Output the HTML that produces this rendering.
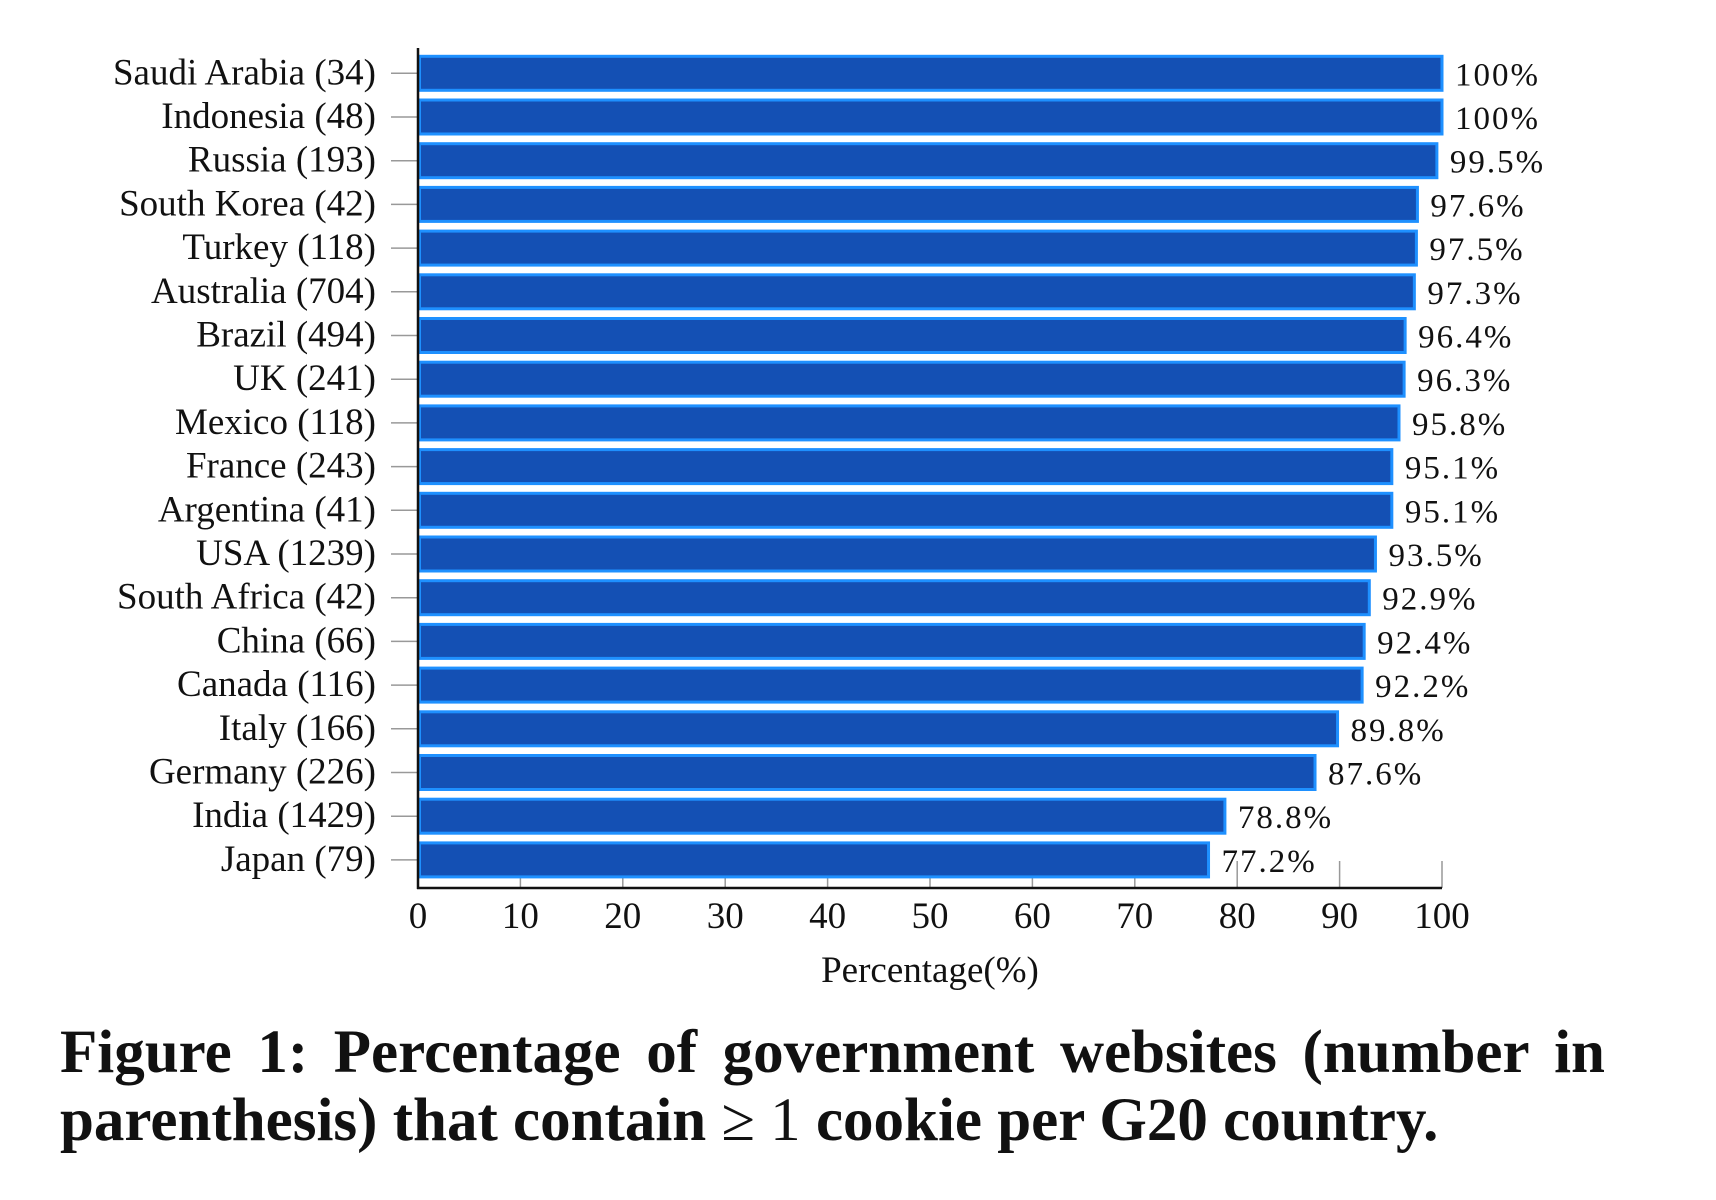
<!DOCTYPE html>
<html><head><meta charset="utf-8"><style>
html,body{margin:0;padding:0;background:#fff;width:1716px;height:1200px;overflow:hidden}
svg{display:block}
.cap{position:absolute;left:60px;width:1545px;font-family:"Liberation Serif",serif;font-weight:bold;font-size:61px;color:#111}
</style></head><body>
<svg id="chart" width="1716" height="1000" xmlns="http://www.w3.org/2000/svg"></svg>
<div class="cap" style="top:1018px;text-align:justify;text-align-last:justify;white-space:nowrap">Figure 1: Percentage of government websites (number in</div>
<div class="cap" style="top:1086px;white-space:nowrap">parenthesis) that contain <span style="font-weight:normal">≥ 1</span> cookie per G20 country.</div>
<script>
const countries = ["Saudi Arabia (34)","Indonesia (48)","Russia (193)","South Korea (42)","Turkey (118)","Australia (704)","Brazil (494)","UK (241)","Mexico (118)","France (243)","Argentina (41)","USA (1239)","South Africa (42)","China (66)","Canada (116)","Italy (166)","Germany (226)","India (1429)","Japan (79)"];
const values = [100,100,99.5,97.6,97.5,97.3,96.4,96.3,95.8,95.1,95.1,93.5,92.9,92.4,92.2,89.8,87.6,78.8,77.2];
const valueLabels = ["100%","100%","99.5%","97.6%","97.5%","97.3%","96.4%","96.3%","95.8%","95.1%","95.1%","93.5%","92.9%","92.4%","92.2%","89.8%","87.6%","78.8%","77.2%"];
const xTicks = [0,10,20,30,40,50,60,70,80,90,100];

const NS="http://www.w3.org/2000/svg";
const svg=document.getElementById('chart');
const X0=418,X1=1442,YB=888,YT=48,firstC=73.3,step=43.7,barH=34;
const xs=v=>X0+(X1-X0)*v/100;
const yc=i=>firstC+i*step;
function mk(tag,attrs){const e=document.createElementNS(NS,tag);for(const k in attrs)e.setAttribute(k,attrs[k]);svg.appendChild(e);return e;}
xTicks.forEach(t=>{
  const l=mk('line',{x1:xs(t),x2:xs(t),y1:YB-27,y2:YB,stroke:'#999','stroke-width':1.5});
  
  
  const tx=mk('text',{x:xs(t),y:928,'text-anchor':'middle','font-family':'Liberation Serif, serif','font-size':37,fill:'#111'});
  tx.textContent=t;
  
  
});
countries.forEach((c,i)=>{
  const y=yc(i);
  const tk=mk('line',{x1:391,x2:X0,y1:y,y2:y,stroke:'#999','stroke-width':1.5});
  
  
  const r=mk('rect',{x:X0+1.5,y:y-barH/2,width:xs(values[i])-X0-1.5,height:barH,fill:'#1450b4',stroke:'#1e90ff','stroke-width':3});
  
  
  const lb=mk('text',{x:376,y:y+11,'text-anchor':'end','font-family':'Liberation Serif, serif','font-size':37,fill:'#111'});
  lb.textContent=c;
  
  
  const vl=mk('text',{x:xs(values[i])+13,y:y+12,'font-family':'Liberation Serif, serif','font-size':33,'letter-spacing':2,fill:'#111'});
  vl.textContent=valueLabels[i];
  
  
});
const ax=mk('line',{x1:X0,x2:X0,y1:YT,y2:YB+1,stroke:'#111','stroke-width':2.5});


const axx=mk('line',{x1:X0-1,x2:X1,y1:YB,y2:YB,stroke:'#111','stroke-width':2.5});


const tt=mk('text',{x:930,y:982,'text-anchor':'middle','font-family':'Liberation Serif, serif','font-size':37,fill:'#111'});
tt.textContent='Percentage(%)';


</script>
</body></html>
